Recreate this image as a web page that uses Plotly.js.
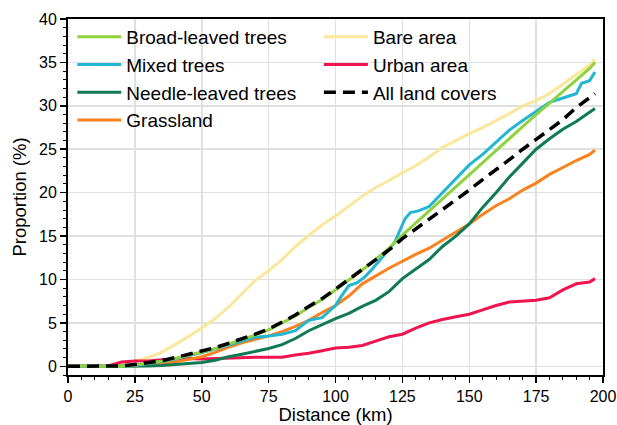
<!DOCTYPE html>
<html>
<head>
<meta charset="utf-8">
<script src="https://cdn.plot.ly/plotly-3.0.1.min.js"></script>
<style>html,body{margin:0;padding:0;background:#fff;}#chart{width:617px;height:425px;}</style>
</head>
<body>
<div id="chart"></div>
<script>
// Distance (km)
var dist = [0,5,10,15,20,25,30,35,40,45,50,55,60,65,70,75,80,85,90,95,100,105,110,115,120,125,130,135,140,145,150,155,160,165,170,175,180,185,190,195,197];
var broad = [0,0,0,0,0,0.15,0.35,0.6,0.9,1.25,1.65,2.05,2.55,3.05,3.6,4.2,5.0,5.8,6.8,7.7,8.8,9.9,11.1,12.3,13.6,15.1,16.5,17.9,19.3,20.7,22.0,23.4,24.8,26.2,27.6,29.0,30.3,31.6,32.9,34.3,35.0];
var mixDist = [0,5,10,15,20,25,30,35,40,45,50,55,60,65,70,75,80,85,90,95,100,102,105,108,111,114,118,120,122,124,126,128,131,135,140,145,150,155,160,165,170,175,180,185,188,190,192,195,197];
var mixed = [0,0,0,0,0,0.1,0.3,0.55,0.85,1.2,1.6,2.0,2.45,2.95,3.35,3.5,3.7,4.1,5.3,5.6,7.0,8.0,9.3,9.6,10.3,11.3,12.7,13.4,14.2,15.6,17.0,17.7,17.9,18.4,20.0,21.6,23.2,24.4,25.8,27.2,28.3,29.4,30.4,30.9,31.2,31.4,32.6,32.9,33.9];
var needle = [0,0,0,0,0,0,0.05,0.1,0.2,0.3,0.45,0.7,1.1,1.4,1.7,2.05,2.5,3.2,4.1,4.8,5.5,6.1,6.9,7.6,8.6,10.1,11.2,12.3,13.8,15.0,16.4,18.3,20.0,21.8,23.4,25.0,26.2,27.3,28.2,29.2,29.7];
var grass = [0,0,0,0,0,0.05,0.15,0.3,0.5,0.8,1.1,1.6,2.2,2.7,3.1,3.5,4.0,4.6,5.3,6.2,7.0,8.1,9.5,10.4,11.3,12.1,12.9,13.6,14.5,15.5,16.4,17.5,18.5,19.3,20.3,21.1,22.1,22.9,23.7,24.4,24.9];
var bare = [0,0,0,0.05,0.3,0.6,1.0,1.6,2.5,3.4,4.4,5.5,6.8,8.3,9.9,11.0,12.3,13.8,15.1,16.3,17.3,18.5,19.6,20.6,21.4,22.3,23.1,24.1,25.2,26.0,26.8,27.5,28.3,29.1,30.0,30.6,31.4,32.5,33.7,34.7,35.4];
var urban = [0,0,0,0.05,0.5,0.6,0.6,0.75,0.8,0.9,0.85,0.9,1.0,1.05,1.05,1.05,1.05,1.3,1.5,1.8,2.1,2.2,2.4,2.9,3.4,3.7,4.4,5.0,5.4,5.7,6.0,6.5,7.0,7.4,7.5,7.6,7.9,8.8,9.5,9.7,10.1];
var allCovers = [0,0,0,0,0.05,0.2,0.4,0.65,1.0,1.35,1.75,2.15,2.65,3.15,3.7,4.3,5.1,5.9,6.9,7.8,8.9,10.0,11.2,12.2,13.4,14.7,15.8,16.9,18.0,19.2,20.3,21.5,22.6,23.8,25.0,26.1,27.2,28.4,29.8,30.9,31.4];

var names = ["Broad-leaved trees","Mixed trees","Needle-leaved trees","Grassland","Bare area","Urban area","All land covers"];
var xTickVals = [0,25,50,75,100,125,150,175,200];
var yTickVals = [0,5,10,15,20,25,30,35,40];

var FONT = "Liberation Sans, Arial, Helvetica, sans-serif";
function tr(x, y, name, color, leg, dash, w) {
  return {x: x, y: y, name: name, type: "scatter", mode: "lines",
    line: {color: color, width: w || 3, dash: dash || "solid"},
    legend: leg, legendgroup: name};
}
var data = [
  tr(dist, bare, names[4], "#fbe79b", "legend2"),
  tr(dist, urban, names[5], "#ef1450", "legend2"),
  tr(dist, grass, names[3], "#f9821f", "legend"),
  tr(dist, needle, names[2], "#107a55", "legend"),
  tr(mixDist, mixed, names[1], "#22b6d2", "legend"),
  tr(dist, broad, names[0], "#8ed23e", "legend"),
  tr(dist, allCovers, names[6], "#000000", "legend2", "12px,7px", 3.5)
];
data[0].legendrank = 1; data[1].legendrank = 2; data[6].legendrank = 3;
data[5].legendrank = 1; data[4].legendrank = 2; data[3].legendrank = 3; data[2].legendrank = 4;

var legCommon = {bgcolor: "rgba(0,0,0,0)", borderwidth: 0, font: {family: FONT, size: 19, color: "#000"},
  xanchor: "left", yanchor: "top", traceorder: "grouped", tracegroupgap: 0, itemwidth: 44};
var layout = {
  width: 617, height: 425,
  margin: {l: 68, r: 14, t: 19, b: 50},
  paper_bgcolor: "#fff", plot_bgcolor: "#fff",
  font: {family: FONT, size: 16, color: "#000"},
  showlegend: true,
  legend: Object.assign({}, legCommon, {x: 0.008, y: 1.003}),
  legend2: Object.assign({}, legCommon, {x: 0.469, y: 1.003}),
  xaxis: {range: [0, 200], tickvals: xTickVals, ticks: "outside", ticklen: 6, tickwidth: 1.5, tickcolor: "#000",
    showline: true, linewidth: 2, linecolor: "#000", mirror: true, zeroline: false,
    showgrid: true, gridcolor: "#e0e0e0", gridwidth: 1.5,
    minor: {dtick: 5, tick0: 0, ticks: "outside", ticklen: 3, tickwidth: 1, tickcolor: "#000", showgrid: false},
    tickfont: {size: 16, family: FONT},
    title: {text: "Distance (km)", font: {size: 18.5, family: FONT}, standoff: 6}},
  yaxis: {range: [-1, 40], tickvals: yTickVals, ticks: "outside", ticklen: 6, tickwidth: 1.5, tickcolor: "#000",
    showline: true, linewidth: 2, linecolor: "#000", mirror: true, zeroline: false,
    showgrid: true, gridcolor: "#e0e0e0", gridwidth: 1.5,
    minor: {dtick: 1, tick0: 0, ticks: "outside", ticklen: 3, tickwidth: 1, tickcolor: "#000", showgrid: false},
    tickfont: {size: 16, family: FONT},
    title: {text: "Proportion (%)", font: {size: 18.5, family: FONT}, standoff: 8}}
};
Plotly.newPlot("chart", data, layout, {displayModeBar: false, staticPlot: true});
</script>
</body>
</html>
